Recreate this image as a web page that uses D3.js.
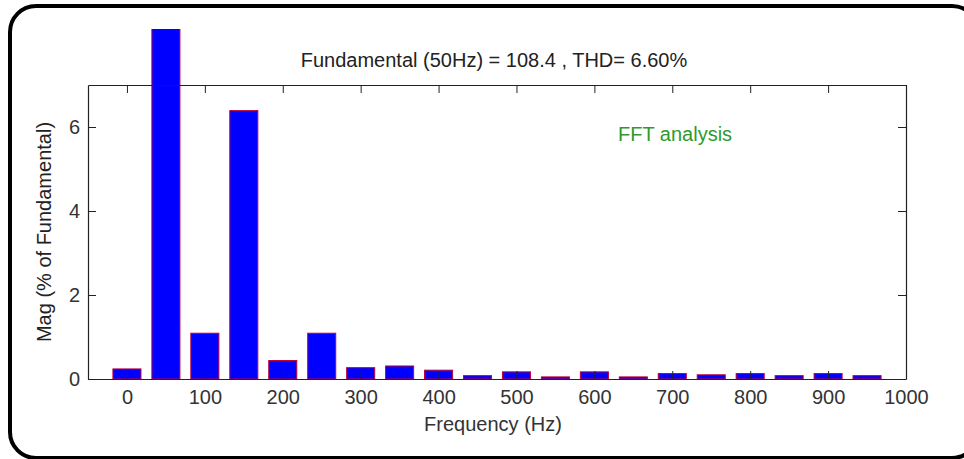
<!DOCTYPE html>
<html>
<head>
<meta charset="utf-8">
<script src="https://cdn.jsdelivr.net/npm/d3@7"></script>
<style>
  body { margin: 0; background: #fff; }
  svg { display: block; font-family: "Liberation Sans", Arial, sans-serif; }
</style>
</head>
<body>
<div id="fft"></div>
<script>
// Harmonic frequencies (Hz) and magnitudes (% of fundamental)
const freqs = [0, 50, 100, 150, 200, 250, 300, 350, 400, 450, 500, 550, 600, 650, 700, 750, 800, 850, 900, 950];
const mags = [0.24, 100, 1.09, 6.39, 0.44, 1.09, 0.27, 0.31, 0.21, 0.08, 0.17, 0.05, 0.17, 0.05, 0.13, 0.1, 0.13, 0.08, 0.13, 0.08];
const xTicks = [0, 100, 200, 300, 400, 500, 600, 700, 800, 900, 1000];
const yTicks = [0, 2, 4, 6];
const titleText = "Fundamental (50Hz) = 108.4 , THD= 6.60%";

const data = freqs.map((f, i) => ({freq: f, mag: mags[i]}));

const width = 964, height = 459;
const margins = {top: 85, right: 58, bottom: 80, left: 88};
const fontSize = "20px";

const svg = d3.select("#fft")
  .append("svg")
  .attr("width", width)
  .attr("height", height)
  .attr("viewBox", [0, 0, width, height]);

// rounded frame around the figure
svg.append("rect")
  .attr("x", 10).attr("y", 6)
  .attr("width", 968).attr("height", 452)
  .attr("rx", 26).attr("ry", 26)
  .attr("fill", "none")
  .attr("stroke", "#000")
  .attr("stroke-width", 4);

const xScale = d3.scaleLinear()
  .domain([-50, 1000])
  .range([margins.left, width - margins.right]);

const yScale = d3.scaleLinear()
  .domain([0, 7])
  .range([height - margins.bottom, margins.top]);

const barW = xScale(36) - xScale(0);

// the fundamental bar runs past the axes, cut near the frame top
svg.append("clipPath").attr("id", "clip")
  .append("rect")
  .attr("x", margins.left).attr("y", 29)
  .attr("width", width - margins.left - margins.right)
  .attr("height", height - margins.bottom - 29);

svg.append("g")
  .attr("clip-path", "url(#clip)")
  .selectAll("rect")
  .data(data)
  .join("rect")
    .attr("x", d => xScale(d.freq) - barW / 2)
    .attr("y", d => yScale(d.mag))
    .attr("width", barW)
    .attr("height", d => yScale(0) - yScale(d.mag))
    .attr("fill", "#0000ff")
    .attr("stroke", "#c0003a")
    .attr("stroke-width", 1);

// axes, MATLAB style: ticks pointing inward on every side
const x0 = margins.left, x1 = width - margins.right;
const y0 = height - margins.bottom, y1 = margins.top;

const xBottom = svg.append("g")
  .attr("transform", `translate(0,${y0})`)
  .call(d3.axisBottom(xScale).tickValues(xTicks).tickSizeInner(-8).tickSizeOuter(0)
    .tickPadding(11).tickFormat(d3.format("d")));
const xTop = svg.append("g")
  .attr("transform", `translate(0,${y1})`)
  .call(d3.axisTop(xScale).tickValues(xTicks).tickSizeInner(-8).tickSizeOuter(0).tickFormat(""));
const yLeft = svg.append("g")
  .attr("transform", `translate(${x0},0)`)
  .call(d3.axisLeft(yScale).tickValues(yTicks).tickSizeInner(-8).tickSizeOuter(0)
    .tickPadding(8).tickFormat(d3.format("d")));
const yRight = svg.append("g")
  .attr("transform", `translate(${x1},0)`)
  .call(d3.axisRight(yScale).tickValues(yTicks).tickSizeInner(-8).tickSizeOuter(0).tickFormat(""));

[xBottom, xTop, yLeft, yRight].forEach(g => {
  g.select(".domain").attr("stroke", "#222").attr("stroke-width", 1.2);
  g.selectAll(".tick line").attr("stroke", "#222");
  g.selectAll(".tick text")
    .attr("fill", "#333")
    .style("font-size", fontSize)
    .style("font-family", "'Liberation Sans', Arial, sans-serif");
});

svg.append("text")
  .attr("x", 494)
  .attr("y", 67)
  .attr("text-anchor", "middle")
  .attr("fill", "#222")
  .style("font-size", fontSize)
  .text(titleText);

svg.append("text")
  .attr("x", 493)
  .attr("y", 431)
  .attr("text-anchor", "middle")
  .attr("fill", "#333")
  .style("font-size", fontSize)
  .text("Frequency (Hz)");

svg.append("text")
  .attr("transform", `translate(51,${(y0 + y1) / 2}) rotate(-90)`)
  .attr("text-anchor", "middle")
  .attr("fill", "#222")
  .style("font-size", fontSize)
  .text("Mag (% of Fundamental)");

svg.append("text")
  .attr("x", 618)
  .attr("y", 141)
  .attr("fill", "#2e9a2e")
  .style("font-size", fontSize)
  .text("FFT analysis");
</script>
</body>
</html>
